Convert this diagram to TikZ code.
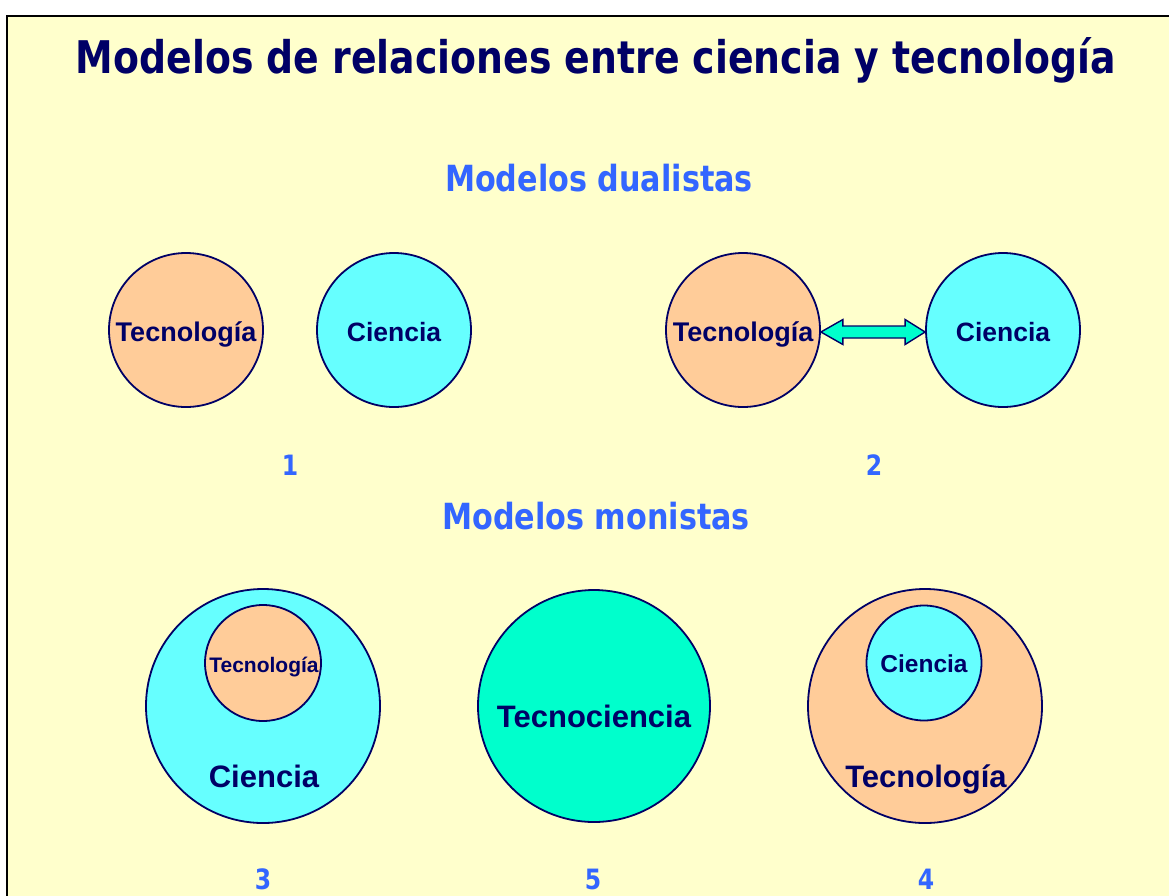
\documentclass[tikz,border=0pt]{standalone}
\usepackage{fontspec}
\setmainfont{Liberation Sans}
\newfontfamily\hfont[FakeStretch=0.84]{DejaVu Sans}
\usetikzlibrary{calc}
\definecolor{bgyellow}{HTML}{FFFFCC}
\definecolor{peach}{HTML}{FFCC99}
\definecolor{cyanfill}{HTML}{66FFFF}
\definecolor{aqua}{HTML}{00FFCC}
\definecolor{navy}{HTML}{000066}
\definecolor{lblue}{HTML}{3366FF}
\tikzset{
  circ/.style={circle,draw=navy,line width=1.8pt,inner sep=0pt,minimum size=#1},
  tec/.style={circ=#1,fill=peach},
  cie/.style={circ=#1,fill=cyanfill},
  lab/.style={text=navy,font=\bfseries\fontsize{#1}{#1}\selectfont,anchor=base,inner sep=0pt},
  head/.style={text=lblue,font=\hfont\bfseries\fontsize{#1}{#1}\selectfont,anchor=base,inner sep=0pt},
}
\begin{document}
\begin{tikzpicture}[x=1pt,y=-1pt]
\useasboundingbox (0,0) rectangle (1169,895);
\clip (0,0) rectangle (1169,895);
\fill[white] (0,0) rectangle (1169,895);
\filldraw[fill=bgyellow,draw=black,line width=2pt] (7,16) rectangle (1185,910);
% title
\node[text=navy,font=\hfont\bfseries\fontsize{45}{45}\selectfont,anchor=base,inner sep=0pt] (title) at (596,73) {Modelos de relaciones entre ciencia y tecnología};
\node[head=36] (dual) at (599,191) {Modelos dualistas};
\node[head=36] (mono) at (596,529) {Modelos monistas};
% model 1
\node[tec=154pt] (t1) at (186,330) {};
\node[cie=154pt] (c1) at (394,330) {};
\node[lab=27] (t1l) at (186,341) {Tecnología};
\node[lab=26.5] (c1l) at (394,341) {Ciencia};
\node[head=28] (n1) at (290,475) {1};
% model 2
\node[tec=154pt] (t2) at (743,330) {};
\node[cie=154pt] (c2) at (1003,330) {};
\node[lab=27] (t2l) at (743,341) {Tecnología};
\node[lab=26.5] (c2l) at (1003,341) {Ciencia};
\node[head=28] (n2) at (874,475) {2};
\coordinate (al) at ($(t2.east)+(0,2)$);
\coordinate (ar) at ($(c2.west)+(0,2)$);
\filldraw[fill=aqua,draw=navy,line width=1.4pt,line join=miter]
  (al) -- ($(al)+(22,-12.5)$) -- ($(al)+(22,-6)$) -- ($(ar)+(-20,-6)$) -- ($(ar)+(-20,-12.5)$)
  -- (ar) -- ($(ar)+(-20,12.5)$) -- ($(ar)+(-20,6)$) -- ($(al)+(22,6)$) -- ($(al)+(22,12.5)$) -- cycle;
% model 3
\node[cie=234pt] (c3) at (263,706) {};
\node[tec=116pt] (t3) at (263,663) {};
\node[lab=21] (t3l) at (264,672) {Tecnología};
\node[lab=31] (c3l) at (264,787) {Ciencia};
\node[head=28] (n3) at (263,889) {3};
% model 5
\node[circ=232pt,fill=aqua] (tc) at (594,706) {};
\node[lab=31] (tcl) at (594,727) {Tecnociencia};
\node[head=28] (n5) at (593,889) {5};
% model 4
\node[tec=234pt] (t4) at (925,706) {};
\node[cie=115pt] (c4) at (924,663) {};
\node[lab=24.5] (c4l) at (924,672) {Ciencia};
\node[lab=31] (t4l) at (926,787) {Tecnología};
\node[head=28] (n4) at (926,889) {4};
\end{tikzpicture}
\end{document}
